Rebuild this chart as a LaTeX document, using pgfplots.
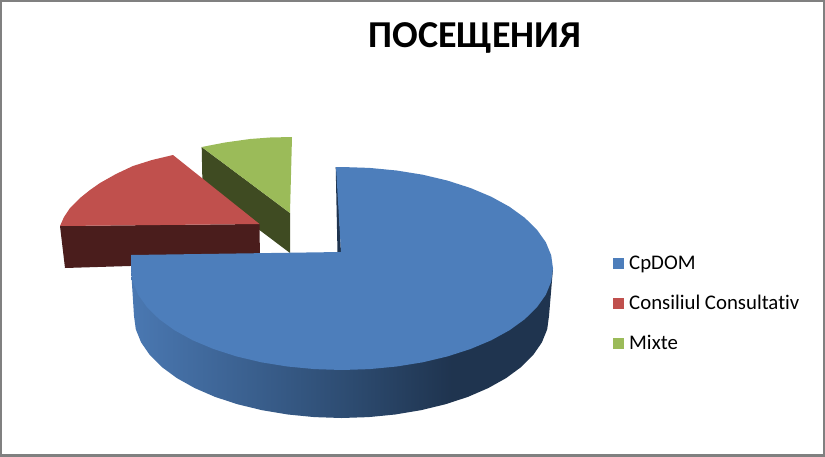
\documentclass[border=0pt]{standalone}
\usepackage{fontspec}
\setmainfont[Ligatures=NoCommon]{Carlito}
\usepackage{pgfplots}
\pgfplotsset{compat=1.18}
\definecolor{pblue}{HTML}{4D7EBB}
\definecolor{pred}{HTML}{C0504D}
\definecolor{pgreen}{HTML}{9BBB59}
\definecolor{predw}{HTML}{4A1D1C}
\definecolor{pgreenw}{HTML}{3F4B22}
\definecolor{wa}{HTML}{4A78B2}
\definecolor{wb}{HTML}{2E4D73}
\definecolor{wc}{HTML}{1F344F}
\definecolor{pframe}{HTML}{808080}
\pgfdeclarehorizontalshading{wall}{100bp}{color(0bp)=(wa); color(25bp)=(wa); color(50bp)=(wb); color(63bp)=(wc); color(100bp)=(wc)}
\begin{document}
\begin{tikzpicture}
\path[use as bounding box] (0,0) rectangle (825pt,456pt);
\begin{axis}[
  at={(0,0)}, anchor=south west,
  scale only axis, width=825pt, height=456pt,
  xmin=0, xmax=825, ymin=0, ymax=456, y dir=reverse,
  xtick=\empty, ytick=\empty,
  axis line style={draw=pframe, line width=4pt},
  title={\textbf{ПОСЕЩЕНИЯ}},
  title style={at={(axis cs:475,44)}, anchor=center, yshift=0pt, font=\fontsize{38}{42}\selectfont, text=black},
  legend style={draw=none, fill=none, at={(axis cs:607,248)}, anchor=north west,
    font=\fontsize{20.8}{24}\selectfont, row sep=20pt, inner sep=6pt},
  legend cell align=left,
  legend image code/.code={\fill[#1] (0pt,-5.5pt) rectangle (11pt,5.5pt); \path (14pt,0pt);},
]
\addlegendimage{fill=pblue, draw=none}
\addlegendentry{CpDOM}
\addlegendimage{fill=pred, draw=none}
\addlegendentry{Consiliul Consultativ}
\addlegendimage{fill=pgreen, draw=none}
\addlegendentry{Mixte}
% Mixte
\addplot[fill=pgreenw, draw=none, forget plot] coordinates {(201.7,147) (290,213) (290,253) (202.5,187)};
\addplot[fill=pgreen, draw=none, forget plot] coordinates {(201.7,147) (225,142.5) (250,139) (270,137.5) (292,137) (290,213)};
% Consiliul Consultativ
\addplot[fill=predw, draw=none, forget plot] coordinates {(60,226) (259.5,224) (260,262) (65,268)};
\addplot[fill=pred, draw=none, forget plot] coordinates {(60,226) (64,217) (70,208) (80,198) (90,190) (100,183) (116,174) (133,166) (152,160) (173,155) (259.5,224)};
% CpDOM
\addplot[shade, shading=wall, draw=none, forget plot] coordinates {(553,268.5) (549,316) (547.2,329.3) (541.9,342.4) (533.2,355) (521.2,367) (506.1,378.1) (488.2,388.1) (467.9,396.9) (445.3,404.3) (420.9,410.2) (395.2,414.5) (368.6,417.1) (341.5,418) (314.4,417.1) (287.8,414.5) (262.1,410.2) (237.7,404.3) (215.1,396.9) (194.8,388.1) (176.9,378.1) (161.8,367) (149.8,355) (141.1,342.4) (135.8,329.3) (134,316) (131,268.5)};
\addplot[fill=wc, draw=none, forget plot] coordinates {(335.7,167) (337.5,253) (341,253) (337,167)};
\addplot[fill=pblue, draw=none, forget plot] coordinates {(336,167.1) (342,167) (369.5,167.9) (396.6,170.5) (422.7,174.7) (447.5,180.6) (470.5,188) (491.2,196.7) (509.4,206.7) (524.7,217.75) (536.9,229.7) (545.8,242.2) (551.2,255.3) (553,268.5) (551.2,281.7) (545.8,294.8) (536.9,307.3) (524.7,319.25) (509.4,330.3) (491.2,340.3) (470.5,349) (447.5,356.4) (422.7,362.3) (396.6,366.5) (369.5,369.1) (342,370) (314.5,369.1) (287.4,366.5) (261.3,362.3) (236.5,356.4) (213.5,349) (192.8,340.3) (174.6,330.3) (159.3,319.25) (147.1,307.3) (138.2,294.8) (132.8,281.7) (131,268.5) (131,255) (341,252)};
\end{axis}
\end{tikzpicture}
\end{document}
